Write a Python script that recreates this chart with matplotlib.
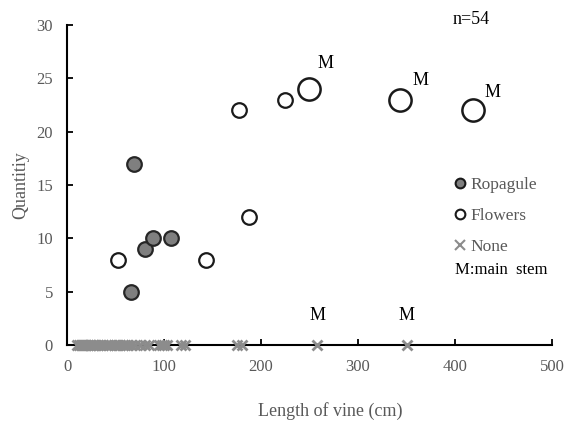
import numpy as np
import matplotlib
matplotlib.use("Agg")
import matplotlib.pyplot as plt
from matplotlib.lines import Line2D

plt.rcParams['font.family'] = ['Liberation Serif', 'DejaVu Serif']

# data
rop_x = [66, 69, 80, 89, 107]
rop_y = [5, 17, 9, 10, 10]

flw_x = [53, 143, 177, 188, 225]
flw_y = [8, 8, 22, 12, 23]

# main stems with flowers
main_x = [249, 343, 419]
main_y = [24, 23, 22]

none_x = [10, 12, 14, 15, 17, 18, 20, 22, 24, 25, 27, 28, 30, 32, 35, 37,
          40, 42, 45, 48, 50, 53, 55, 58, 60, 63, 66, 70, 75, 80, 85,
          95, 98, 100, 103, 118, 122, 175, 180, 258, 350]
none_y = [0] * len(none_x)
none_main_x = [258, 350]

gray_txt = '#595959'

fig = plt.figure(figsize=(5.71, 4.21), dpi=100)
ax = fig.add_axes([67 / 571, 1 - 345 / 421, 485 / 571, 320 / 421])

ax.plot(none_x, none_y, 'x', color='#8c8c8c', ms=7, mew=2, ls='none',
        clip_on=False, zorder=4)
ax.plot(rop_x, rop_y, 'o', mfc='#7f7f7f', mec='#262626', ms=10.5, mew=1.6,
        ls='none', zorder=3)
ax.plot(flw_x, flw_y, 'o', mfc='white', mec='#1a1a1a', ms=10.5, mew=1.6,
        ls='none', zorder=3)
ax.plot(main_x, main_y, 'o', mfc='white', mec='#1a1a1a', ms=16, mew=1.8,
        ls='none', zorder=3)

# M labels
offs = [(12, 18), (15, 14), (14, 13)]
for x, y, o in zip(main_x, main_y, offs):
    ax.annotate('M', (x, y), xytext=o, textcoords='offset points',
                ha='center', va='center', fontsize=13)
for x in none_main_x:
    ax.annotate('M', (x, 0), xytext=(0, 21), textcoords='offset points',
                ha='center', va='center', fontsize=13)

ax.set_xlim(0, 500)
ax.set_ylim(0, 30)
ax.set_xticks(np.arange(0, 501, 100))
ax.set_yticks(np.arange(0, 31, 5))
for s in ['top', 'right']:
    ax.spines[s].set_visible(False)
for s in ['left', 'bottom']:
    ax.spines[s].set_linewidth(1.5)
ax.tick_params(direction='in', length=4, width=1.3, labelsize=12,
               labelcolor=gray_txt)
ax.tick_params(axis='y', pad=10)
ax.tick_params(axis='x', pad=10)

ax.set_xlabel('Length of vine (cm)', fontsize=13, color=gray_txt)
ax.xaxis.set_label_coords(0.542, -0.178)
ax.set_ylabel('Quantitiy', fontsize=13, color=gray_txt)
ax.yaxis.set_label_coords(-0.078, 0.5)

handles = [
    Line2D([], [], marker='o', ls='none', mfc='#7f7f7f', mec='#1a1a1a', ms=7, mew=1.5),
    Line2D([], [], marker='o', ls='none', mfc='white', mec='#1a1a1a', ms=7, mew=1.5),
    Line2D([], [], marker='x', ls='none', color='#8c8c8c', ms=7, mew=1.5),
]
leg = ax.legend(handles, ['Ropagule', 'Flowers', 'None'], loc='upper left',
                bbox_to_anchor=(453 / 571, 1 - 177 / 421),
                bbox_transform=fig.transFigure, frameon=False, fontsize=12.5,
                handlelength=0.8, handletextpad=0.2, labelspacing=0.85,
                borderpad=0, borderaxespad=0)
for t in leg.get_texts():
    t.set_color(gray_txt)
fig.text(455 / 571, 1 - 270 / 421, 'M:main  stem', fontsize=12, va='center')

fig.text(453 / 571, 1 - 20 / 421, 'n=54', fontsize=13, va='center')

fig.savefig('out.png', dpi=100)
